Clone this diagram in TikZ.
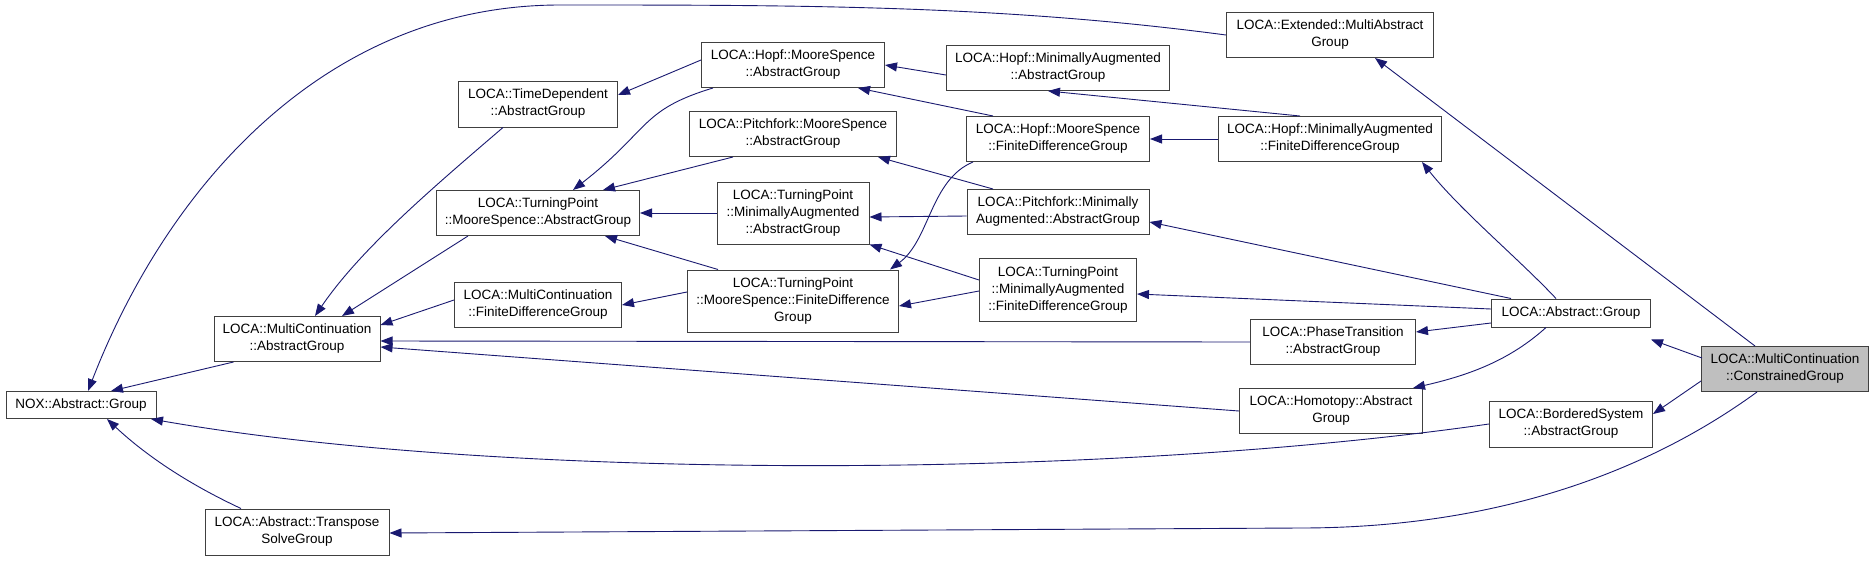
\documentclass[tikz,border=0pt]{standalone}
\usepackage{fontspec}
\setmainfont{Liberation Sans}
\usetikzlibrary{arrows.meta}
\definecolor{edgec}{HTML}{191970}
\definecolor{boxc}{HTML}{404040}
\tikzset{
  cls/.style={draw=boxc,line width=1pt,fill=white,align=center,inner sep=0pt,font=\fontsize{13.5pt}{17pt}\selectfont},
  edge/.style={draw=edgec,line width=0.9pt,-{Triangle[length=12pt,width=9pt]}},
}
\begin{document}
\begin{tikzpicture}[x=1pt,y=-1pt]
\useasboundingbox[fill=white] (0,0) rectangle (1875,560);
\node[cls,minimum width=150,minimum height=27] (nox) at (81,405) {NOX::Abstract::Group};
\node[cls,minimum width=166,minimum height=45] (mcag) at (297,339) {LOCA::MultiContinuation\\::AbstractGroup};
\node[cls,minimum width=184,minimum height=46] (tsg) at (297,532) {LOCA::Abstract::Transpose\\SolveGroup};
\node[cls,minimum width=159,minimum height=46] (td) at (538,104) {LOCA::TimeDependent\\::AbstractGroup};
\node[cls,minimum width=203,minimum height=45] (tpms) at (538,213) {LOCA::TurningPoint\\::MooreSpence::AbstractGroup};
\node[cls,minimum width=167,minimum height=45] (mcfd) at (538,305) {LOCA::MultiContinuation\\::FiniteDifferenceGroup};
\node[cls,minimum width=183,minimum height=45] (hmsag) at (793,65) {LOCA::Hopf::MooreSpence\\::AbstractGroup};
\node[cls,minimum width=207,minimum height=45] (pmsag) at (793,134) {LOCA::Pitchfork::MooreSpence\\::AbstractGroup};
\node[cls,minimum width=152,minimum height=62] (tpmaag) at (793,213) {LOCA::TurningPoint\\::MinimallyAugmented\\::AbstractGroup};
\node[cls,minimum width=211,minimum height=62] (tpmsfd) at (793,301) {LOCA::TurningPoint\\::MooreSpence::FiniteDifference\\Group};
\node[cls,minimum width=223,minimum height=45] (hmaag) at (1058,68) {LOCA::Hopf::MinimallyAugmented\\::AbstractGroup};
\node[cls,minimum width=183,minimum height=45] (hmsfd) at (1058,139) {LOCA::Hopf::MooreSpence\\::FiniteDifferenceGroup};
\node[cls,minimum width=182,minimum height=45] (pmaag) at (1058,212) {LOCA::Pitchfork::Minimally\\Augmented::AbstractGroup};
\node[cls,minimum width=157,minimum height=63] (tpmafd) at (1058,290) {LOCA::TurningPoint\\::MinimallyAugmented\\::FiniteDifferenceGroup};
\node[cls,minimum width=207,minimum height=45] (ext) at (1330,35) {LOCA::Extended::MultiAbstract\\Group};
\node[cls,minimum width=223,minimum height=45] (hmafd) at (1330,139) {LOCA::Hopf::MinimallyAugmented\\::FiniteDifferenceGroup};
\node[cls,minimum width=165,minimum height=45] (pt) at (1333,342) {LOCA::PhaseTransition\\::AbstractGroup};
\node[cls,minimum width=183,minimum height=45] (hom) at (1331,411) {LOCA::Homotopy::Abstract\\Group};
\node[cls,minimum width=159,minimum height=28] (ag) at (1571,313) {LOCA::Abstract::Group};
\node[cls,minimum width=163,minimum height=46] (bs) at (1571,424) {LOCA::BorderedSystem\\::AbstractGroup};
\node[cls,minimum width=167,minimum height=45,fill={rgb,255:red,191;green,191;blue,191}] (cg) at (1785,369) {LOCA::MultiContinuation\\::ConstrainedGroup};

\coordinate (topmid) at (560,5);
\coordinate (botmid) at (1300,528);

% to NOX
\draw[edge] (mcag.south west) ++(20,0) -- ([xshift=30pt]nox.north);
\draw[edge] (ext.west) .. controls (1000,5) and (800,5) .. (topmid) .. controls (330,5) and (170,180) .. ([xshift=7pt]nox.north);
\draw[edge] (bs.west) .. controls (1100,480) and (500,480) .. ([xshift=70pt]nox.south);
\draw[edge] ([xshift=-56pt]tsg.north) .. controls (180,480) and (140,450) .. ([xshift=26pt]nox.south);
% to MC::AG
\draw[edge] ([xshift=-35pt]td.south) .. controls (430,190) and (360,250) .. ([xshift=18pt]mcag.north);
\draw[edge] ([xshift=-70pt]tpms.south) -- ([xshift=45pt]mcag.north);
\draw[edge] ([yshift=5pt]mcfd.west) -- ([yshift=14pt]mcag.east);
\draw[edge] (pt.west) -- ([yshift=-2pt]mcag.east);
\draw[edge] (hom.west) -- ([yshift=-8pt]mcag.east);
% to TimeDependent / TP::MS::AG
\draw[edge] ([yshift=5pt]hmsag.west) -- ([yshift=9pt]td.east);
\draw[edge] ([xshift=-80pt]hmsag.south) .. controls (640,110) and (650,130) .. ([xshift=35pt]tpms.north);
\draw[edge] ([xshift=-60pt]pmsag.south) -- ([xshift=65pt]tpms.north);
\draw[edge] (tpmaag.west) -- (tpms.east);
\draw[edge] ([xshift=-75pt]tpmsfd.north) -- ([xshift=67pt]tpms.south);
\draw[edge] ([yshift=9pt]tpmsfd.west) -- (mcfd.east);
% Hopf
\draw[edge] ([yshift=-7pt]hmaag.west) -- (hmsag.east);
\draw[edge] ([xshift=-65pt]hmsfd.north) -- ([xshift=65pt]hmsag.south);
\draw[edge] (hmafd.west) -- (hmsfd.east);
\draw[edge] ([xshift=-30pt]hmafd.north) -- ([xshift=-10pt]hmaag.south);
\draw[edge] ([xshift=-85pt]hmsfd.south) .. controls (930,180) and (930,240) .. ([xshift=97pt]tpmsfd.north);
% Pitchfork / TP MinAug
\draw[edge] ([xshift=-65pt]pmaag.north) -- ([xshift=85pt]pmsag.south);
\draw[edge] ([yshift=-4pt]pmaag.west) -- ([yshift=-4pt]tpmaag.east);
\draw[edge] ([yshift=10pt]tpmafd.west) -- (tpmaag.south east);
\draw[edge] ([yshift=-1pt]tpmafd.west) -- ([yshift=-5pt]tpmsfd.east);
% from Abstract::Group
\draw[edge] ([xshift=-15pt]ag.north) .. controls (1520,260) and (1460,210) .. ([xshift=-20pt]hmafd.south east);
\draw[edge] ([xshift=-60pt]ag.north) -- ([yshift=-10pt]pmaag.east);
\draw[edge] ([yshift=4pt]ag.west) -- ([yshift=-4pt]tpmafd.east);
\draw[edge] ([yshift=-10pt]ag.west) -- ([yshift=10pt]pt.east);
\draw[edge] ([xshift=-25pt]ag.south) .. controls (1510,360) and (1470,375) .. ([xshift=-10pt]hom.north east);
% from Constrained
\draw[edge] ([xshift=-83pt,yshift=-12pt]cg.north) -- ([yshift=-12pt]ag.south east);
\draw[edge] ([xshift=-30pt]cg.north) -- ([xshift=45pt]ext.south);
\draw[edge] ([yshift=-12pt]cg.west) -- ([yshift=10pt]bs.east);
\draw[edge] ([xshift=-28pt]cg.south) .. controls (1650,470) and (1500,528) .. (botmid) -- ([yshift=-1pt]tsg.east);
\end{tikzpicture}
\end{document}
